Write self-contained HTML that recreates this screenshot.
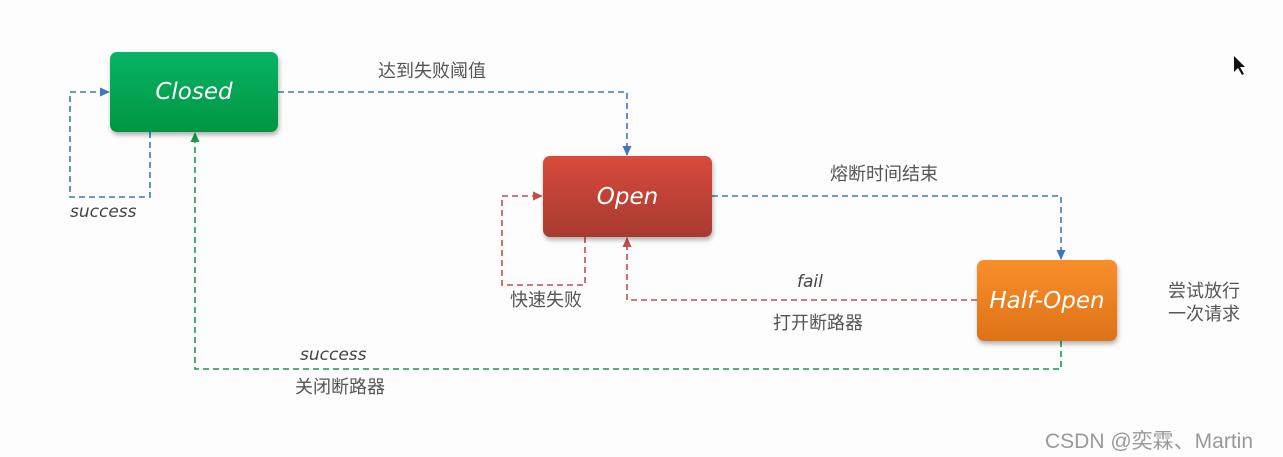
<!DOCTYPE html>
<html><head><meta charset="utf-8"><style>
body{margin:0;width:1283px;height:457px;background:#fdfdfd;overflow:hidden;position:relative;font-family:"Liberation Sans","Noto Sans CJK SC",sans-serif}
.box{position:absolute;border-radius:7px;color:#fff;font-family:"Comic Sans MS","DejaVu Sans",sans-serif;font-style:italic;font-size:23px;display:flex;align-items:center;justify-content:center;box-shadow:1px 3px 5px rgba(0,0,0,.3)}
.t{position:absolute;color:#555;font-size:18px;white-space:nowrap}
.i{font-style:italic;font-family:"DejaVu Sans",sans-serif;font-size:17px;color:#444}
</style></head><body>
<svg width="1283" height="457" style="position:absolute;left:0;top:0">
<defs>
<marker id="ab" markerWidth="10" markerHeight="10" refX="9" refY="5" orient="auto" markerUnits="userSpaceOnUse"><path d="M0,0.5L10,5L0,9.5z" fill="#3f78b8"/></marker>
<marker id="ar" markerWidth="10" markerHeight="10" refX="9" refY="5" orient="auto" markerUnits="userSpaceOnUse"><path d="M0,0.5L10,5L0,9.5z" fill="#c0504d"/></marker>
<marker id="ag" markerWidth="10" markerHeight="10" refX="9" refY="5" orient="auto" markerUnits="userSpaceOnUse"><path d="M0,0.5L10,5L0,9.5z" fill="#1a9a4a"/></marker>
</defs>
<g fill="none" stroke-width="1.6" stroke-dasharray="6,4">
<path d="M278,92H627V155" stroke="#3f78b8" marker-end="url(#ab)"/>
<path d="M150,132V197H70V92H109" stroke="#3f78b8" marker-end="url(#ab)"/>
<path d="M712,196H1061V259" stroke="#3f78b8" marker-end="url(#ab)"/>
<path d="M977,300H627V238" stroke="#c0504d" marker-end="url(#ar)"/>
<path d="M585,237V285H502V196H542" stroke="#c0504d" marker-end="url(#ar)"/>
<path d="M1061,341V369H195V133" stroke="#1a9a4a" marker-end="url(#ag)"/>
</g>
<path d="M1234,56l0,16l4,-4l4,7l2,-1l-4,-7l5,0z" fill="#111"/>
</svg>
<div class="box" style="left:110px;top:52px;width:168px;height:80px;background:linear-gradient(#08b466,#009640)">Closed</div>
<div class="box" style="left:543px;top:156px;width:169px;height:81px;background:linear-gradient(#d94a3c,#a83a30)">Open</div>
<div class="box" style="left:977px;top:260px;width:140px;height:81px;background:linear-gradient(#f98f2a,#dd7218)">Half-Open</div>
<div class="t" style="left:378px;top:57px">达到失败阈值</div>
<div class="t i" style="left:70px;top:202px">success</div>
<div class="t" style="left:830px;top:160px">熔断时间结束</div>
<div class="t i" style="left:797px;top:272px">fail</div>
<div class="t" style="left:773px;top:309px">打开断路器</div>
<div class="t" style="left:510px;top:286px">快速失败</div>
<div class="t i" style="left:300px;top:345px">success</div>
<div class="t" style="left:295px;top:373px">关闭断路器</div>
<div class="t" style="left:1168px;top:280px;line-height:23px">尝试放行<br>一次请求</div>
<div class="t" style="left:1045px;top:425px;color:#999;font-size:21px">CSDN @奕霖、Martin</div>
</body></html>
